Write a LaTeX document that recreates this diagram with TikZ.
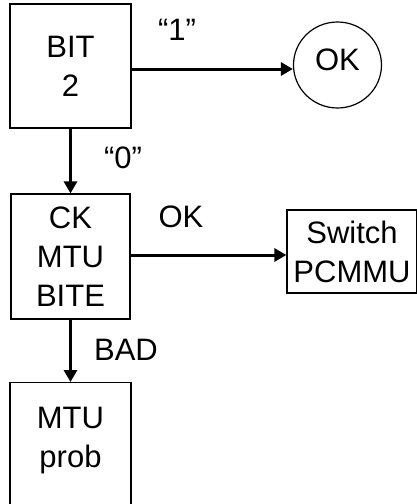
\documentclass[tikz,border=0pt]{standalone}
\usepackage{fontspec}
\setmainfont{Liberation Sans}
\usetikzlibrary{arrows.meta,shapes.geometric}
\begin{document}
\begin{tikzpicture}[x=1pt,y=-1pt,
  txt/.style={font=\fontsize{31}{39}\selectfont, align=center, inner sep=0pt},
  boxn/.style={draw, line width=1.2pt, txt},
  arr/.style={line width=3pt, -{Triangle[length=12pt,width=13pt]}}]
\useasboundingbox (0,0) rectangle (417,504);
\clip (0,0) rectangle (417,504);
\node[boxn, minimum width=121pt, minimum height=124pt] (bit) at (70.5,66) {BIT\\2};
\node[draw, line width=1.2pt, ellipse, minimum width=88pt, minimum height=86pt, txt] (ok) at (337.5,65) {};
\node[txt] (oktxt) at (337.5,60) {OK};
\node[boxn, minimum width=119pt, minimum height=125pt] (ck) at (70.5,256.5) {CK\\MTU\\BITE};
\node[boxn, minimum width=130pt, minimum height=83pt] (sw) at (352,251.5) {Switch\\PCMMU};
\node[draw, line width=1.2pt, minimum width=121pt, minimum height=140pt, anchor=north] (mtu) at (70.5,382) {};
\node[txt] (mtutxt) at (70.5,441) {MTU\\prob};
\node[txt] (l1) at (177,30) {“1”};
\node[txt] (l0) at (123,158) {“0”};
\node[txt] (lok) at (181,217) {OK};
\node[txt] (lbad) at (126,350) {BAD};
\draw[arr] (bit.east |- 0,69) -- (ok.west |- 0,69);
\draw[arr] (bit.south) -- (ck.north);
\draw[arr] (ck.east |- 0,255) -- (sw.west |- 0,255);
\draw[arr] (ck.south) -- (mtu.north);
\end{tikzpicture}
\end{document}
